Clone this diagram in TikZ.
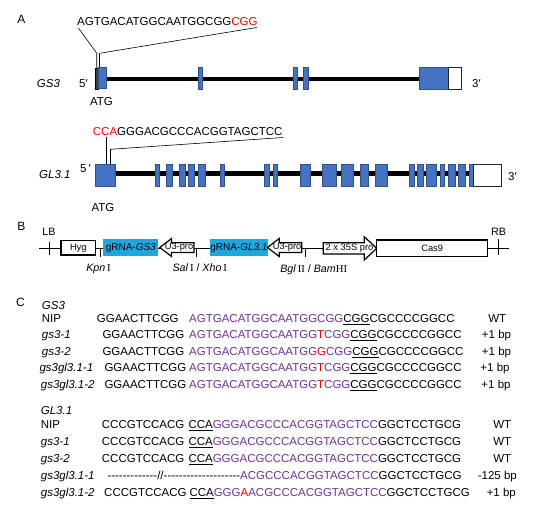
\documentclass[tikz,border=0pt]{standalone}
\usepackage{fontspec}
\setmainfont{Liberation Sans}
\newfontfamily\serifnum{Liberation Serif}
\usetikzlibrary{positioning}

\definecolor{exonblue}{RGB}{68,114,196}
\definecolor{exonedge}{RGB}{47,82,143}
\definecolor{sgpurple}{RGB}{112,48,160}
\definecolor{sgcyan}{RGB}{27,168,224}

\newcommand{\pur}[1]{\textcolor{sgpurple}{#1}}
\newcommand{\mut}[1]{\textcolor{red}{#1}}
\newcommand{\pam}[1]{\underline{#1}}
\newcommand{\rnum}[1]{{\serifnum\upshape #1}}
\newcommand{\dashrun}[1]{\foreach \k in {1,...,#1}{-}}

\begin{document}
\begin{tikzpicture}[x=1pt,y=-1pt,
  txt/.style={inner sep=0pt,font=\fontsize{11.5}{13}\selectfont},
  itx/.style={inner sep=0pt,font=\fontsize{11.5}{13}\selectfont\itshape},
  lbl/.style={inner sep=0pt,font=\fontsize{9.3}{11}\selectfont},
  enz/.style={inner sep=0pt,font=\fontsize{10.7}{12}\selectfont},
  panel/.style={inner sep=0pt,font=\fontsize{12}{14}\selectfont},
  grna/.style={fill=sgcyan,minimum height=16.7pt,inner sep=0pt,font=\fontsize{10}{12}\selectfont},
  exon/.style={draw=exonedge,fill=exonblue,line width=0.5pt},
  utr/.style={draw=black!85,fill=white,line width=0.9pt},
  intron/.style={line width=4.3pt},
  promo/.style={draw,fill=white,line width=1.2pt}]

	\useasboundingbox (0,0) rectangle (543,520);

	% A
	\node[panel,anchor=base] (panelA) at (21.5,23){A};

	\node[txt,anchor=base west] (seqGS) at (77,25){AGTGACATGGCAATGGCGG\mut{CGG}};
	\draw[line width=0.6pt](78.7,28.3)--(96.7,53.3)--(96.7,68);
	\draw[line width=0.6pt](256.7,27.5)--(99.5,53.3)--(99.5,68);

	\draw[intron](106,78.8)--(419.3,78.8);
	\draw[fill=black!75,line width=0.5pt](95,68.3) rectangle (98.3,89.3);
	\draw[exon](98.3,67.7) rectangle (106,88.5);
	\foreach \a/\b in {198.3/202.7,293.7/297.7,303.7/308.3}
	{
		\draw[exon](\a,67.7) rectangle (\b,89.3);
	}
	\draw[exon](419.3,67.7) rectangle (448.3,89.3);
	\draw[utr](448.3,67.7) rectangle (461,89.3);

	\node[itx,anchor=base west] (nameGS) at (36.7,87){GS3};
	\node[txt,anchor=base west] (fiveGS) at (79,87){5′};
	\node[txt,anchor=base west] (threeGS) at (472,87){3′};
	\node[txt,anchor=base] (atgGS) at (101.5,105){ATG};

	\node[txt,anchor=base west] (seqGL) at (92.7,135){\mut{CCA}GGGACGCCCACGGTAGCTCC};
	\draw[line width=0.6pt](106.3,136.5)--(106.3,164);
	\draw[line width=0.6pt](283,137.5)--(110.5,149.3)--(110.5,164);

	\draw[intron](115,173.5)--(473.3,173.5);
	\draw[exon](95,164) rectangle (115,186.5);
	\foreach \a/\b in {155.7/159.3,166.7/172,179.3/185,188.7/194.3,198.7/205,220.7/224.7,
		264.3/269.3,273/277.7,300.7/310,322.7/336,341/353.3,360/368.7,375.7/387.5,
		409.3/414,417.7/423,426.5/436,440/444.3,448/455.2,457.8/465.5,468.8/473.3}
	{
		\draw[exon](\a,164) rectangle (\b,186.5);
	}
	\draw[utr](473.3,164.3) rectangle (501.7,186.5);

	\node[itx,anchor=base west] (nameGL) at (39,178){GL3.1};
	\node[txt,anchor=base west] (fiveGL) at (80,172.7){5\,′};
	\node[txt,anchor=base west] (threeGL) at (508,180){3′};
	\node[txt,anchor=base] (atgGL) at (103,211.5){ATG};

	% B
	\node[panel,anchor=base] (panelB) at (21.5,230){B};

	\draw[line width=1.2pt](39,248.3)--(509.3,248.3);
	\foreach \x/\t in {49.3/241.7,498.3/239.3}
	{
		\draw[line width=1.2pt](\x,\t)--(\x,255);
	}
	\foreach \x in {100,196.7,305.7}
	{
		\draw[line width=1pt](\x,248.3)--(\x,257);
	}

	\node[lbl,draw,fill=white,line width=1.3pt,minimum width=34.7pt,minimum height=14.3pt] (hyg) at (78.3,247.9){Hyg};
	\node[grna,minimum width=55pt] (grnaGS) at (130.8,247.7){gRNA-\textit{GS3}};
	\node[grna,minimum width=55.7pt] (grnaGL) at (238.9,247.7){gRNA-\textit{GL3.1}};

	\foreach \t in {159.8,267.5}
	{
		\draw[promo](\t,247.5)--++(11.7,-9)--++(0,4.2)--++(22.5,0)--++(0,9.8)--++(-22.5,0)--++(0,4)--cycle;
	}
	\node[lbl] (uthreeA) at (179,247.6){U3-pro};
	\node[lbl] (uthreeB) at (287.2,247.6){U3-pro};

	\draw[promo](323.3,242.7)--(364.3,242.7)--(364.3,236.7)--(376.7,248.3)--(364.3,260)--(364.3,254)--(323.3,254)--cycle;
	\node[lbl] (pro35S) at (349.5,248.3){2 x 35S pro};

	\node[lbl,draw,fill=white,line width=1.2pt,minimum width=111pt,minimum height=16.7pt] (cas) at (432.2,248.3){Cas9};

	\node[enz,anchor=base] (lb) at (49,235){LB};
	\node[enz,anchor=base] (rb) at (498.5,235){RB};

	\node[enz,anchor=base] (kpn) at (98.5,271.5){\textit{Kpn}\,\rnum{I}};
	\node[enz,anchor=base] (salxho) at (199.7,271.5){\textit{Sal}\,\rnum{I} / \textit{Xho}\,\rnum{I}};
	\node[enz,anchor=base] (bglbam) at (313.7,272){\textit{Bgl}\,\rnum{II} / \textit{Bam}\rnum{HI}};

	% C
	\node[panel,anchor=base] (panelC) at (20.5,306.7){C};

	\node[itx,anchor=base west] (headGS) at (41.7,309){GS3};
	\node[txt,anchor=base west] (nipGS) at (41.7,322.3){NIP};
	\foreach \y/\n/\x [count=\i] in {338.8/gs3-1/41.7,355.3/gs3-2/41.7,371.8/gs3gl3.1-1/39.3,388.3/gs3gl3.1-2/40.7}
	{
		\node[itx,anchor=base west] (mutGS\i) at (\x,\y){\n};
	}
	\foreach \y/\x [count=\i] in {322.3/96.7,338.8/102.3,355.3/102.3,371.8/104.3,388.3/104.3}
	{
		\node[txt,anchor=base west] (flankGS\i) at (\x,\y){GGAACTTCGG};
	}
	\node[txt,anchor=base west] (siteGS1) at (189,322.3){\pur{AGTGACATGGCAATGGCGG}\pam{CGG}CGCCCCGGCC};
	\node[txt,anchor=base west] (siteGS2) at (189,338.8){\pur{AGTGACATGGCAATGG}\mut{T}\pur{CGG}\pam{CGG}CGCCCCGGCC};
	\node[txt,anchor=base west] (siteGS3) at (189,355.3){\pur{AGTGACATGGCAATGG}\mut{G}\pur{CGG}\pam{CGG}CGCCCCGGCC};
	\node[txt,anchor=base west] (siteGS4) at (189,371.8){\pur{AGTGACATGGCAATGG}\mut{T}\pur{CGG}\pam{CGG}CGCCCCGGCC};
	\node[txt,anchor=base west] (siteGS5) at (189,388.3){\pur{AGTGACATGGCAATGG}\mut{T}\pur{CGG}\pam{CGG}CGCCCCGGCC};
	\node[txt,anchor=base] (typeGS1) at (497.3,322.3){WT};
	\foreach \y/\x [count=\i from 2] in {338.8/496.5,355.3/496.5,371.8/495,388.3/496}
	{
		\node[txt,anchor=base] (typeGS\i) at (\x,\y){+1 bp};
	}

	\node[itx,anchor=base west] (headGL) at (40.7,414){GL3.1};
	\node[txt,anchor=base west] (nipGL) at (40.7,428.3){NIP};
	\foreach \y/\n [count=\i] in {445.3/gs3-1,462.3/gs3-2,479.5/gs3gl3.1-1,496.8/gs3gl3.1-2}
	{
		\node[itx,anchor=base west] (mutGL\i) at (40.7,\y){\n};
	}
	\foreach \y/\x [count=\i] in {428.3/101.7,445.3/101.7,462.3/101.7}
	{
		\node[txt,anchor=base west] (flankGL\i) at (\x,\y){CCCGTCCACG};
		\node[txt,anchor=base west] (siteGL\i) at (188.3,\y){\pam{CCA}\pur{GGGACGCCCACGGTAGCTCC}GGCTCCTGCG};
	}
	\node[txt,anchor=base west] (flankGL4) at (107.3,479.5){\dashrun{13}//\dashrun{20}};
	\node[txt,anchor=base west] (siteGL4) at (240,479.5){\pur{ACGCCCACGGTAGCTCC}GGCTCCTGCG};
	\node[txt,anchor=base west] (flankGL5) at (104,496.8){CCCGTCCACG};
	\node[txt,anchor=base west] (siteGL5) at (189.3,496.8){\pam{CCA}\pur{GGG}\mut{A}\pur{ACGCCCACGGTAGCTCC}GGCTCCTGCG};
	\foreach \y [count=\i] in {428.3,445.3,462.3}
	{
		\node[txt,anchor=base] (typeGL\i) at (502.3,\y){WT};
	}
	\node[txt,anchor=base] (typeGL4) at (497.3,479.5){-125 bp};
	\node[txt,anchor=base] (typeGL5) at (501.3,496.8){+1 bp};

\end{tikzpicture}
\end{document}
